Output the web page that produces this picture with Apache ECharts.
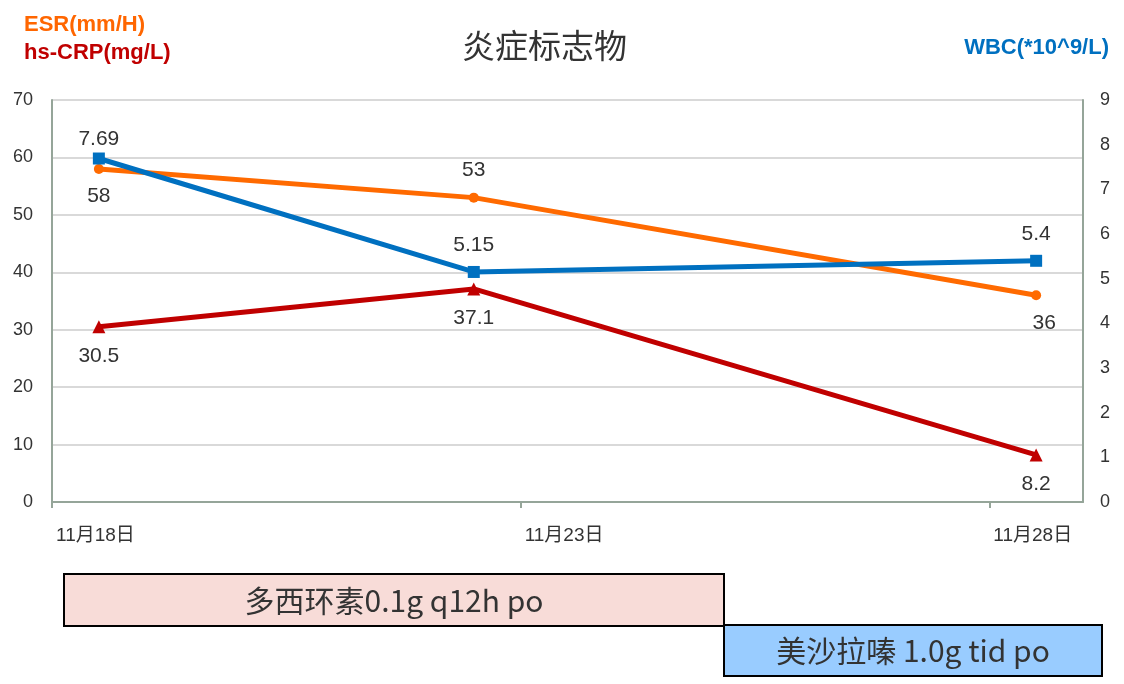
<!DOCTYPE html>
<html>
<head>
<meta charset="utf-8">
<script src="https://cdn.jsdelivr.net/npm/echarts@6/dist/echarts.min.js"></script>
<style>html,body{margin:0;padding:0;background:#fff;}#c{width:1124px;height:684px;}</style>
</head>
<body>
<div id="c"></div>
<script>
const days = [18.5, 22.5, 28.5];
const esr = [58, 53, 36];
const crp = [30.5, 37.1, 8.2];
const wbc = [7.69, 5.15, 5.4];
const esrLabelPos = ['bottom', 'top', 'bottom'];
const drugs = ['多西环素0.1g q12h po', '美沙拉嗪 1.0g tid po'];

const FONT = '"Liberation Sans", Arial, "Noto Sans CJK SC", sans-serif';
const CJK = '"Noto Sans CJK SC", sans-serif';
const axisColor = '#95a599';

function pts(arr) { return arr.map((v, i) => [days[i], v]); }

const chart = echarts.init(document.getElementById('c'));
chart.setOption({
  animation: false,
  textStyle: { fontFamily: FONT },
  title: [
    { text: '炎症标志物', left: 457, top: 24, textStyle: { fontFamily: CJK, fontSize: 33, fontWeight: 'normal', color: '#333' } },
    { text: 'ESR(mm/H)', left: 19, top: 9, textStyle: { fontFamily: FONT, fontSize: 22, fontWeight: 'bold', color: '#FF6600' } },
    { text: 'hs-CRP(mg/L)', left: 19, top: 37, textStyle: { fontFamily: FONT, fontSize: 22, fontWeight: 'bold', color: '#C00000' } },
    { text: 'WBC(*10^9/L)', right: 10, top: 32, textStyle: { fontFamily: FONT, fontSize: 22, fontWeight: 'bold', color: '#0070C0' } }
  ],
  grid: { left: 52, right: 41, top: 100, bottom: 182, containLabel: false },
  xAxis: {
    type: 'value', min: 18, max: 29, interval: 5,
    axisLine: { lineStyle: { color: axisColor, width: 2 } },
    axisTick: { show: true, length: 6, lineStyle: { color: axisColor, width: 2 } },
    splitLine: { show: false },
    axisLabel: {
      showMaxLabel: false,
      align: 'left', margin: 24, fontSize: 19, color: '#333', fontFamily: FONT,
      padding: [0, 0, 0, 4],
      formatter: v => (v === 18 || v === 23 || v === 28) ? '11月' + v + '日' : ''
    }
  },
  yAxis: [
    {
      type: 'value', min: 0, max: 70, interval: 10, position: 'left',
      axisLine: { show: true, lineStyle: { color: axisColor, width: 2 } },
      axisTick: { show: false },
      splitLine: { lineStyle: { color: '#d9d9d9', width: 2 } },
      axisLabel: { fontSize: 18, color: '#333', margin: 19 }
    },
    {
      type: 'value', min: 0, max: 9, interval: 1, position: 'right',
      axisLine: { show: true, lineStyle: { color: axisColor, width: 2 } },
      axisTick: { show: false },
      splitLine: { show: false },
      axisLabel: { fontSize: 18, color: '#333', margin: 17 }
    }
  ],
  series: [
    {
      name: 'ESR', type: 'line', yAxisIndex: 0,
      data: pts(esr).map((p, i) => ({ value: p, label: { position: esrLabelPos[i], offset: i === 2 ? [8, 0] : [0, 0] } })),
      symbol: 'circle', symbolSize: 10,
      lineStyle: { color: '#FF6A00', width: 5 }, itemStyle: { color: '#FF6A00' },
      label: { show: true, fontSize: 21, color: '#333', distance: 12, formatter: p => p.value[1] }
    },
    {
      name: 'WBC', type: 'line', yAxisIndex: 1,
      data: pts(wbc).map((p, i) => ({ value: p, label: { distance: i === 0 ? 3 : 10 } })),
      symbol: 'rect', symbolSize: 12,
      lineStyle: { color: '#0070C0', width: 5 }, itemStyle: { color: '#0070C0' },
      label: { show: true, position: 'top', fontSize: 21, color: '#333', distance: 10, formatter: p => p.value[1] }
    },
    {
      name: 'hs-CRP', type: 'line', yAxisIndex: 0,
      data: pts(crp),
      symbol: 'triangle', symbolSize: 13,
      lineStyle: { color: '#C00000', width: 5 }, itemStyle: { color: '#C00000' },
      label: { show: true, position: 'bottom', fontSize: 21, color: '#333', distance: 12, formatter: p => p.value[1] }
    }
  ],
  graphic: [
    {
      type: 'group', left: 63, top: 573,
      children: [
        { type: 'rect', shape: { x: 0, y: 0, width: 660, height: 52 }, style: { fill: '#F8DCD8', stroke: '#000', lineWidth: 2 } },
        { type: 'text', x: 330, y: 27, style: { text: drugs[0], font: '30px ' + CJK, fill: '#333', textAlign: 'center', textVerticalAlign: 'middle' } }
      ]
    },
    {
      type: 'group', left: 723, top: 624,
      children: [
        { type: 'rect', shape: { x: 0, y: 0, width: 378, height: 51 }, style: { fill: '#99CCFF', stroke: '#000', lineWidth: 2 } },
        { type: 'text', x: 189, y: 26, style: { text: drugs[1], font: '30px ' + CJK, fill: '#333', textAlign: 'center', textVerticalAlign: 'middle' } }
      ]
    }
  ]
});
</script>
</body>
</html>
